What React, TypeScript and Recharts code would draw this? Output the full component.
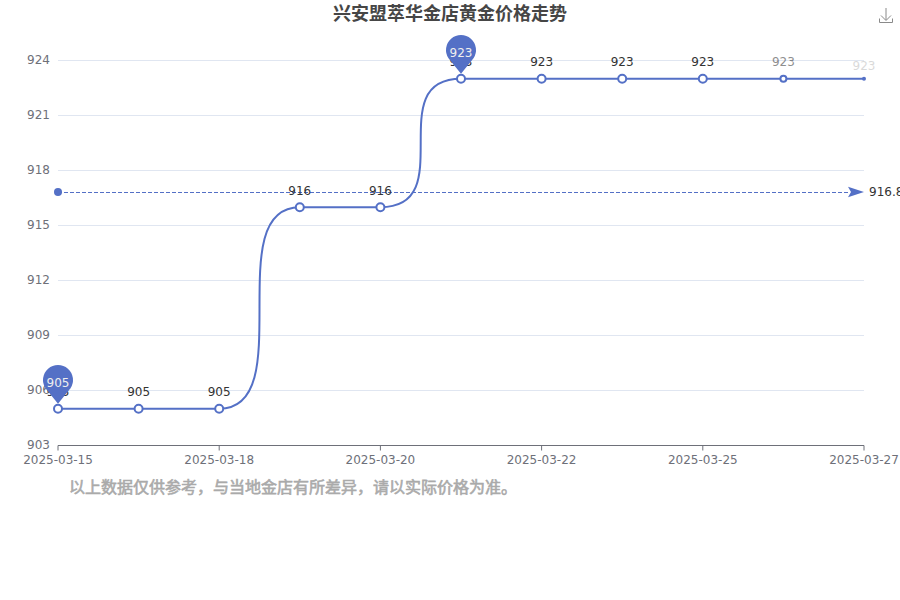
import React from "react";
import { LineChart, Line, XAxis, YAxis, CartesianGrid, ReferenceLine } from "recharts";

const dates = ["2025-03-15","2025-03-17","2025-03-18","2025-03-19","2025-03-20","2025-03-21","2025-03-22","2025-03-24","2025-03-25","2025-03-26","2025-03-27"];
const prices = [905,905,905,916,916,923,923,923,923,923,923];
const yTicks = [903,906,909,912,915,918,921,924];
const meanValue = 916.8;
const pinIndexes = [0, 5];
const titleText = "兴安盟萃华金店黄金价格走势";
const noteText = "以上数据仅供参考，与当地金店有所差异，请以实际价格为准。";

const rows = dates.map((date, i) => ({ date, price: prices[i] }));
const BLUE = "#5470c6";
const FONT = '"DejaVu Sans","Noto Sans CJK SC",sans-serif';
const n = rows.length;

// Sigmoid with two corner arcs that meet, vertical, halfway between two points.
const sCurve = (context: any) => {
  let px = 0, py = 0, started = false;
  return {
    areaStart() {},
    areaEnd() {},
    lineStart() { started = false; },
    lineEnd() {},
    point(xRaw: number, yRaw: number) {
      const x = +xRaw, y = +yRaw;
      if (!started) {
        context.moveTo(x, y);
        started = true;
      } else {
        const mx = (px + x) / 2, my = (py + y) / 2;
        context.bezierCurveTo(mx, py, mx, (py + my) / 2, mx, my);
        context.bezierCurveTo(mx, (my + y) / 2, mx, y, x, y);
      }
      px = x; py = y;
    },
  };
};

const PriceDot = (p: any) => {
  const { cx, cy, index } = p;
  if (index === n - 1) return <circle key={index} cx={cx} cy={cy} r={2} fill={BLUE} />;
  const r = index === n - 2 ? 3 : 4;
  return <circle key={index} cx={cx} cy={cy} r={r} fill="#fff" stroke={BLUE} strokeWidth={2} />;
};

const PinMark = ({ cx, cy, value }: any) => {
  const R = 15;
  const top = cy - 1;
  const d = `M ${cx} ${top - 4} L ${cx - 12.5} ${top - 19.5} A ${R} ${R} 0 1 1 ${cx + 12.5} ${top - 19.5} Z`;
  return (
    <g>
      <path d={d} fill={BLUE} />
      <text x={cx} y={top - 21} textAnchor="middle" fontSize={12} fontFamily={FONT} fill="#eee">{value}</text>
    </g>
  );
};

const PriceLabel = (p: any) => {
  const { x, y, value, index } = p;
  const fading = index === n - 1 ? 0.18 : index === n - 2 ? 0.55 : 1;
  const dy = index === n - 1 ? -9 : -12.5;
  return (
    <g key={index}>
      <text x={x} y={y + dy} textAnchor="middle" fontSize={12} fontFamily={FONT} fill="#333" opacity={fading}>
        {value}
      </text>
      {pinIndexes.includes(index) ? <PinMark cx={x} cy={y} value={value} /> : null}
    </g>
  );
};

const MeanShape = (p: any) => {
  const { x1, x2, y1 } = p;
  return (
    <g>
      <line x1={x1} x2={x2 - 14} y1={y1} y2={y1} stroke={BLUE} strokeWidth={1} strokeDasharray="4 2" />
      <circle cx={x1} cy={y1 - 0.5} r={4} fill={BLUE} />
      <path d={`M ${x2} ${y1 - 0.5} L ${x2 - 16} ${y1 - 5.8} L ${x2 - 13} ${y1 - 0.5} L ${x2 - 16} ${y1 + 4.8} Z`} fill={BLUE} />
      <text x={x2 + 5} y={y1 + 3.5} fontSize={12} fontFamily={FONT} fill="#333">{meanValue}</text>
    </g>
  );
};

export default function App() {
  return (
    <div style={{ position: "absolute", left: 0, top: 0, width: 900, height: 600, background: "#fff" }}>
      <LineChart width={900} height={600} data={rows} margin={{ top: 60.5, right: 36, bottom: 124.5, left: 0 }}>
        <CartesianGrid vertical={false} stroke="#e0e6f1" strokeWidth={1} />
        <XAxis
          dataKey="date"
          scale="point"
          interval={1}
          height={30}
          tickLine={{ stroke: "#6e7079" }}
          tickSize={5}
          tickMargin={5}
          axisLine={{ stroke: "#6e7079" }}
          tick={{ fill: "#6e7079", fontSize: 12, fontFamily: FONT }}
        />
        <YAxis
          width={58}
          domain={[903, 924]}
          ticks={yTicks}
          interval={0}
          axisLine={false}
          tickLine={false}
          tickMargin={8}
          tickSize={0}
          tick={{ fill: "#6e7079", fontSize: 12, fontFamily: FONT, dy: -0.5 }}
        />
        <ReferenceLine y={meanValue} shape={MeanShape} ifOverflow="visible" />
        <Line
          dataKey="price"
          type={sCurve as any}
          stroke={BLUE}
          strokeWidth={2}
          dot={PriceDot}
          activeDot={false}
          label={PriceLabel}
          isAnimationActive={false}
        />
        <text x={450} y={20} textAnchor="middle" fontSize={18} fontWeight={700} fontFamily={FONT} fill="#464646">{titleText}</text>
        <text x={69} y={493} fontSize={16} fontFamily={FONT} fill="#aaa" stroke="#aaa" strokeWidth={0.6}>{noteText}</text>
        <g fill="none" stroke="#8a8a8a" strokeWidth={1}>
          <path d="M886 8 V20 M881 15.5 L886 20.5 L891 15.5" />
          <path d="M879.5 18.5 V22.5 H892.5 V18.5" />
        </g>
      </LineChart>
    </div>
  );
}
